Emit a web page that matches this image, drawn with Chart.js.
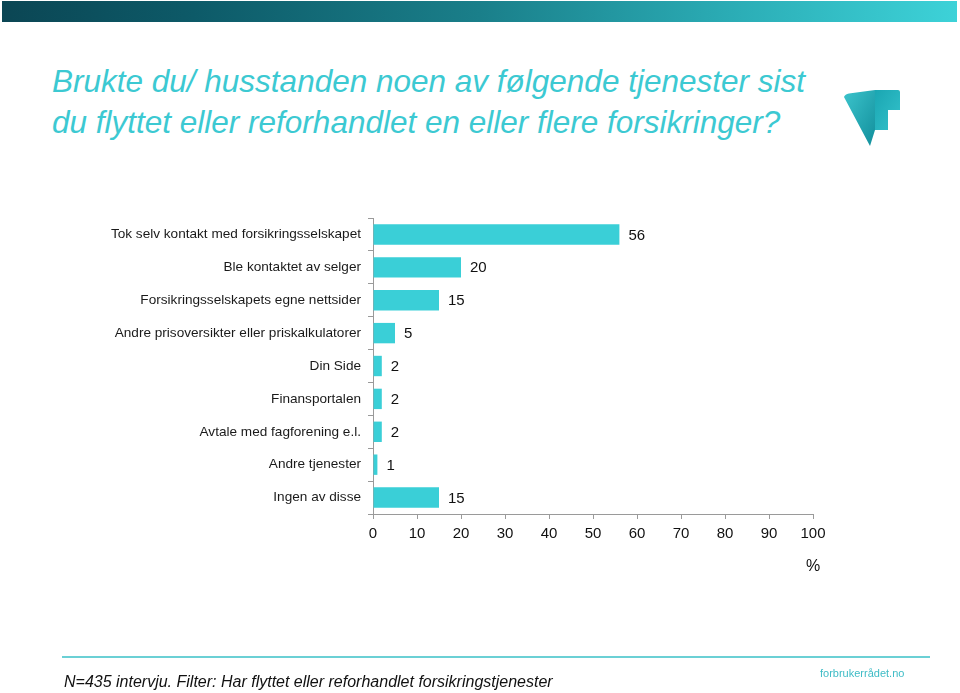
<!DOCTYPE html>
<html>
<head>
<meta charset="utf-8">
<script src="https://cdn.jsdelivr.net/npm/chart.js@4"></script>
<style>
  html, body { margin: 0; padding: 0; background: #fff; }
  body { width: 960px; height: 693px; position: relative; overflow: hidden; font-family: "Liberation Sans", Arial, sans-serif; }
  .topbar { position: absolute; left: 2px; top: 1px; width: 955px; height: 21px;
    background: linear-gradient(to right, #0b4654 0%, #0d5a68 20%, #1a7f8a 50%, #2aaab3 75%, #3dd2d8 100%); }
  .title { position: absolute; left: 52px; top: 61px; color: #3cc9d2; font-style: italic; font-size: 31.5px; line-height: 41px; }
  .logo { position: absolute; left: 840px; top: 86px; }
  #wrap { position: absolute; left: 0; top: 0; width: 960px; height: 693px; }
  .pct { position: absolute; left: 806px; top: 557px; font-size: 16px; color: #111; }
  .rule { position: absolute; left: 62px; top: 656px; width: 868px; height: 2px; background: #6bd0d5; }
  .note { position: absolute; left: 64px; top: 673px; font-size: 16px; font-style: italic; color: #111; }
  .site { position: absolute; left: 820px; top: 667px; font-size: 11px; color: #3fbcc6; font-family: "Liberation Sans Narrow", "Liberation Sans", Arial, sans-serif; }
</style>
</head>
<body>
<div class="topbar"></div>
<div class="title">Brukte du/ husstanden noen av følgende tjenester sist<br>du flyttet eller reforhandlet en eller flere forsikringer?</div>
<svg class="logo" width="64" height="64" viewBox="0 0 64 64">
  <defs>
    <linearGradient id="g1" x1="0" y1="0" x2="1" y2="1">
      <stop offset="0" stop-color="#3cc4cc"/>
      <stop offset="1" stop-color="#128f9c"/>
    </linearGradient>
    <linearGradient id="g2" x1="0" y1="0" x2="1" y2="1">
      <stop offset="0" stop-color="#1aa6b2"/>
      <stop offset="1" stop-color="#34c2cb"/>
    </linearGradient>
  </defs>
  <path d="M4 11 Q5 8 9 7.5 L35 4 L35 44 L30 60 Z" fill="url(#g1)"/>
  <path d="M35 4 L58 4 Q60 4 60 6 L60 24 L48 24 L48 44 L35 44 Z" fill="url(#g2)"/>
</svg>
<div id="wrap"><canvas id="chart" width="960" height="693"></canvas></div>
<div class="pct">%</div>
<div class="rule"></div>
<div class="note">N=435 intervju. Filter: Har flyttet eller reforhandlet forsikringstjenester</div>
<div class="site">forbrukerrådet.no</div>

<script>
const categories = [
  "Tok selv kontakt med forsikringsselskapet",
  "Ble kontaktet av selger",
  "Forsikringsselskapets egne nettsider",
  "Andre prisoversikter eller priskalkulatorer",
  "Din Side",
  "Finansportalen",
  "Avtale med fagforening e.l.",
  "Andre tjenester",
  "Ingen av disse"
];
const values = [56, 20, 15, 5, 2, 2, 2, 1, 15];
const xTicks = [0, 10, 20, 30, 40, 50, 60, 70, 80, 90, 100];

const barColor = "#3acfd7";
const axisColor = "#9a9a9a";

// draws the number next to each bar
const valueLabels = {
  id: "valueLabels",
  afterDatasetsDraw(chart) {
    const ctx = chart.ctx;
    const meta = chart.getDatasetMeta(0);
    ctx.save();
    ctx.font = "15px 'Liberation Sans', Arial, sans-serif";
    ctx.fillStyle = "#111";
    ctx.textBaseline = "middle";
    ctx.textAlign = "left";
    meta.data.forEach((bar, i) => {
      ctx.fillText(String(values[i]), bar.x + 9, bar.y + 1);
    });
    ctx.restore();
  }
};

new Chart(document.getElementById("chart"), {
  type: "bar",
  data: {
    labels: categories,
    datasets: [{
      data: values,
      backgroundColor: barColor,
      borderWidth: 0,
      categoryPercentage: 0.62,
      barPercentage: 1
    }]
  },
  options: {
    indexAxis: "y",
    responsive: false,
    animation: false,
    events: [],
    layout: { padding: { left: 0, top: 218, right: 147, bottom: 139 } },
    plugins: { legend: { display: false }, tooltip: { enabled: false } },
    scales: {
      x: {
        min: 0,
        max: 100,
        afterBuildTicks: (scale) => { scale.ticks = xTicks.map(v => ({ value: v })); },
        afterFit: (scale) => { scale.height = 40; },
        grid: { drawOnChartArea: false, color: axisColor, tickLength: 5 },
        border: { color: axisColor, width: 1 },
        ticks: { color: "#111", font: { size: 15, family: "'Liberation Sans', Arial, sans-serif" }, padding: 6, maxRotation: 0 }
      },
      y: {
        afterFit: (scale) => { scale.width = 373; },
        grid: { drawOnChartArea: false, offset: true, color: axisColor, tickLength: 5 },
        border: { color: axisColor, width: 1 },
        ticks: { color: "#1a1a1a", font: { size: 13.6, family: "'Liberation Sans', Arial, sans-serif" }, padding: 7 }
      }
    }
  },
  plugins: [valueLabels]
});
</script>
</body>
</html>
